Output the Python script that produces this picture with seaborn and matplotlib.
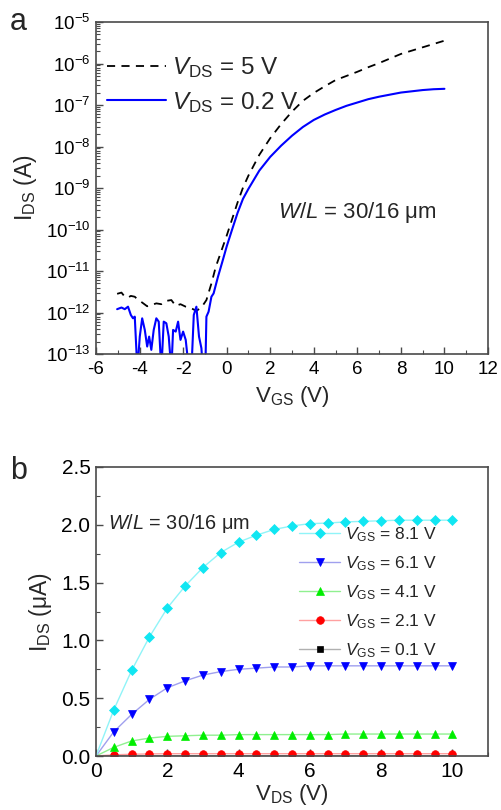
import numpy as np
import pandas as pd
import matplotlib
matplotlib.use("Agg")
import matplotlib.pyplot as plt
import seaborn as sns
from matplotlib.ticker import MultipleLocator, LogLocator, NullFormatter, FixedLocator

# ---------------- data (panel a: transfer curves, log10 of I_DS in A) ----------------
vgs_lin = [-5.03, -4.83, -4.68, -4.53, -4.40, -4.30, -4.22, -4.10, -3.99, -3.88, -3.76, -3.65,
           -3.56, -3.46, -3.35, -3.23, -3.12, -3.00, -2.89, -2.77, -2.66, -2.54, -2.46, -2.34,
           -2.23, -2.12, -2.00, -1.88, -1.73, -1.62, -1.51, -1.39, -1.27, -1.16, -1.09, -0.98,
           -0.93, -0.83, -0.70, -0.60, -0.40, -0.20, 0.0, 0.25, 0.5, 0.75, 1.0, 1.5, 2.0, 2.5,
           3.0, 3.5, 4.0, 4.5, 5.0, 5.5, 6.0, 6.5, 7.0, 7.5, 8.0, 8.5, 9.0, 9.5, 10.0]
log_ids_lin = [-11.92, -11.88, -11.92, -11.86, -12.06, -12.14, -12.10, -13.4, -12.58, -12.14,
               -12.42, -12.82, -12.58, -12.90, -12.42, -12.14, -12.22, -13.4, -12.22, -12.26,
               -12.58, -13.4, -12.42, -12.46, -12.22, -12.66, -12.46, -12.66, -13.4, -13.4,
               -12.06, -11.86, -12.58, -12.86, -13.4, -13.4, -12.10, -11.98, -11.62, -11.54,
               -11.14, -10.78, -10.41, -10.0, -9.60, -9.26, -9.02, -8.58, -8.25, -7.98, -7.74,
               -7.53, -7.36, -7.23, -7.12, -7.02, -6.94, -6.86, -6.80, -6.75, -6.70, -6.67,
               -6.64, -6.62, -6.61]
vgs_sat = [-5.03, -4.83, -4.68, -4.53, -4.40, -4.22, -4.10, -3.88, -3.65, -3.46, -3.23, -3.00,
           -2.77, -2.54, -2.34, -2.12, -1.88, -1.62, -1.39, -1.16, -0.93, -0.70, -0.50, -0.20,
           0.0, 0.25, 0.5, 0.75, 1.0, 1.5, 2.0, 2.5, 3.0, 3.5, 4.0, 4.5, 5.0, 5.5, 6.0, 6.5,
           7.0, 7.5, 8.0, 8.5, 9.0, 9.5, 10.0]
log_ids_sat = [-11.55, -11.52, -11.62, -11.64, -11.60, -11.62, -11.68, -11.76, -11.85, -11.82,
               -11.78, -11.80, -11.72, -11.70, -11.84, -11.80, -11.86, -11.90, -11.96, -11.88,
               -11.70, -11.30, -10.90, -10.45, -10.15, -9.75, -9.35, -8.99, -8.70, -8.20,
               -7.80, -7.46, -7.16, -6.90, -6.71, -6.55, -6.40, -6.30, -6.20, -6.09, -5.99,
               -5.88, -5.77, -5.69, -5.61, -5.53, -5.45]
label_sat = r"$V_{\mathrm{DS}}$ = 5 V"
label_lin = r"$V_{\mathrm{DS}}$ = 0.2 V"
a_xticks = [-6, -4, -2, 0, 2, 4, 6, 8, 10, 12]
a_yexp = [-13, -12, -11, -10, -9, -8, -7, -6, -5]

# ---------------- data (panel b: output curves, I_DS in uA) ----------------
vds = [0, 0.5, 1.0, 1.5, 2.0, 2.5, 3.0, 3.5, 4.0, 4.5, 5.0, 5.5, 6.0, 6.5, 7.0, 7.5, 8.0,
       8.5, 9.0, 9.5, 10.0]
ids_81 = [0, 0.40, 0.74, 1.03, 1.28, 1.47, 1.63, 1.76, 1.85, 1.91, 1.96, 1.99, 2.01, 2.015,
          2.025, 2.03, 2.035, 2.04, 2.04, 2.04, 2.04]
ids_61 = [0, 0.21, 0.36, 0.49, 0.59, 0.65, 0.70, 0.73, 0.75, 0.76, 0.77, 0.77, 0.78, 0.78,
          0.78, 0.78, 0.78, 0.78, 0.78, 0.78, 0.78]
ids_41 = [0, 0.075, 0.13, 0.155, 0.17, 0.175, 0.18, 0.18, 0.185, 0.185, 0.185, 0.185, 0.185,
          0.185, 0.19, 0.19, 0.19, 0.19, 0.19, 0.19, 0.19]
ids_21 = [0, 0.010, 0.015, 0.018, 0.020, 0.020, 0.020, 0.020, 0.020, 0.020, 0.020, 0.020,
          0.020, 0.020, 0.020, 0.020, 0.020, 0.020, 0.020, 0.020, 0.020]
ids_01 = [0, 0.001, 0.001, 0.001, 0.001, 0.001, 0.001, 0.001, 0.001, 0.001, 0.001, 0.001,
          0.001, 0.001, 0.001, 0.001, 0.001, 0.001, 0.001, 0.001, 0.001]
vgs_labels = ["0.1", "2.1", "4.1", "6.1", "8.1"]
b_xticks = [0, 2, 4, 6, 8, 10]
b_yticks = [0.0, 0.5, 1.0, 1.5, 2.0, 2.5]

# ---------------- style ----------------
sns.set_style("white")
plt.rcParams["font.family"] = ["Liberation Sans", "DejaVu Sans"]
plt.rcParams["mathtext.fontset"] = "custom"
plt.rcParams["mathtext.rm"] = "Liberation Sans"
plt.rcParams["mathtext.it"] = "Liberation Sans:italic"
plt.rcParams["mathtext.bf"] = "Liberation Sans:bold"
plt.rcParams["axes.unicode_minus"] = False

spine_c = "#4a4a4a"
fig = plt.figure(figsize=(5.01, 8.10), dpi=100)
axA = fig.add_axes([96 / 501, 1 - 354 / 810, 392 / 501, 332 / 810])
axB = fig.add_axes([96 / 501, 1 - 756 / 810, 392 / 501, 289 / 810])

for ax in (axA, axB):
    for s in ax.spines.values():
        s.set_color(spine_c)
        s.set_linewidth(1.2)
    ax.tick_params(which="both", direction="in", color=spine_c, top=False, right=False,
                   bottom=True, left=True, labelcolor="black")
    ax.tick_params(which="major", length=5, width=1.0)
    ax.tick_params(which="minor", length=3, width=0.8)

# ---- panel a ----
dfa_lin = pd.DataFrame({"V": vgs_lin, "I": np.power(10.0, log_ids_lin)})
dfa_sat = pd.DataFrame({"V": vgs_sat, "I": np.power(10.0, log_ids_sat)})
sns.lineplot(data=dfa_sat, x="V", y="I", ax=axA, color="black", lw=1.3,
             linestyle=(0, (4.5, 3.5)), estimator=None, sort=False, label=label_sat)
sns.lineplot(data=dfa_lin, x="V", y="I", ax=axA, color="#0000ff", lw=1.5,
             estimator=None, sort=False, label=label_lin)
axA.set_yscale("log")
axA.set_xlim(-6, 12)
axA.set_ylim(1e-13, 1e-5)
axA.xaxis.set_major_locator(FixedLocator(a_xticks))
axA.xaxis.set_minor_locator(MultipleLocator(1))
axA.set_xticklabels([str(t) for t in a_xticks])
axA.yaxis.set_major_locator(FixedLocator([10.0 ** e for e in a_yexp]))
axA.set_yticklabels([r"$10^{%d}$" % e for e in a_yexp])
axA.yaxis.set_minor_locator(LogLocator(base=10, subs=np.arange(2, 10), numticks=20))
axA.yaxis.set_minor_formatter(NullFormatter())
axA.tick_params(axis="x", labelsize=13.5, pad=5)
axA.tick_params(axis="y", labelsize=13.5, pad=4)
axA.set_xlabel(r"V$_{\mathrm{GS}}$ (V)", fontsize=16, labelpad=4)
axA.set_ylabel(r"I$_{\mathrm{DS}}$ (A)", fontsize=16.5, labelpad=5)
axA.legend(loc="upper left", bbox_to_anchor=(0.028, 0.9), frameon=False,
           fontsize=17.5, handlelength=2.43, handletextpad=0.25, labelspacing=0.4,
           borderaxespad=0, borderpad=0)
axA.text(0.464, 0.425, r"$W$/$L$ = 30/16 μm", transform=axA.transAxes, fontsize=16,
         ha="left", va="center")

# ---- panel b ----
series = [ids_01, ids_21, ids_41, ids_61, ids_81]
mcolors = ["#000000", "#ff0000", "#00ee00", "#0000ff", "#11e6f2"]
lcolors = ["#b0b0b0", "#ffa0a0", "#90f090", "#a0a0ee", "#90f4f8"]
markers = ["s", "o", "^", "v", "D"]
msizes = [4.5, 5.5, 6.0, 6.0, 5.0]
for vals, lab, mc, lc, mk, ms in zip(series, vgs_labels, mcolors, lcolors, markers, msizes):
    dfb = pd.DataFrame({"V": vds, "I": vals})
    sns.lineplot(data=dfb, x="V", y="I", ax=axB, color=lc, lw=1.0, marker=mk,
                 markersize=ms, markerfacecolor=mc, markeredgecolor=mc,
                 markeredgewidth=0.5, markevery=list(range(1, len(vds))),
                 estimator=None, label=r"$V_{\mathrm{GS}}$ = %s V" % lab)
axB.set_xlim(0, 11)
axB.set_ylim(0, 2.5)
axB.xaxis.set_major_locator(FixedLocator(b_xticks))
axB.xaxis.set_minor_locator(MultipleLocator(1))
axB.yaxis.set_major_locator(FixedLocator(b_yticks))
axB.yaxis.set_minor_locator(MultipleLocator(0.25))
axB.set_xticklabels([str(t) for t in b_xticks])
axB.set_yticklabels(["%.1f" % t for t in b_yticks])
axB.tick_params(axis="x", labelsize=15, pad=4)
axB.tick_params(axis="y", labelsize=15, pad=4)
axB.set_xlabel(r"V$_{\mathrm{DS}}$ (V)", fontsize=16, labelpad=1)
axB.set_ylabel(r"I$_{\mathrm{DS}}$ (μA)", fontsize=16.5, labelpad=5)
h, l = axB.get_legend_handles_labels()
axB.legend(h[::-1], l[::-1], loc="upper left", bbox_to_anchor=(0.518, 0.80),
           frameon=False, fontsize=12.5, handlelength=2.36, handletextpad=0.3,
           labelspacing=0.6, borderaxespad=0, borderpad=0)
axB.text(0.03, 0.806, r"$W$/$L$ = 30/16 μm", transform=axB.transAxes, fontsize=14.3,
         ha="left", va="center")

fig.text(10 / 501, 1 - 30 / 810, "a", fontsize=22)
fig.text(10 / 501, 1 - 479 / 810, "b", fontsize=22)

fig.savefig("out.png", dpi=100)
